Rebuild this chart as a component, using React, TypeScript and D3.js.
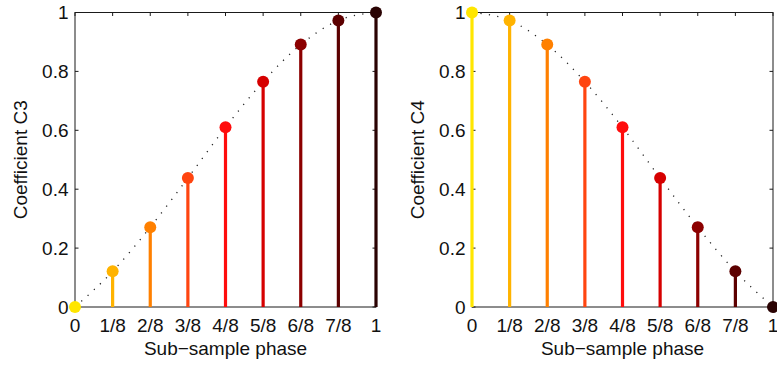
import React from "react";
import * as d3 from "d3";

const phases = [0, 1 / 8, 2 / 8, 3 / 8, 4 / 8, 5 / 8, 6 / 8, 7 / 8, 1];
const tickLabels = ["0", "1/8", "2/8", "3/8", "4/8", "5/8", "6/8", "7/8", "1"];
const yTicks = [0, 0.2, 0.4, 0.6, 0.8, 1];
const coefC3 = [0, 0.121, 0.271, 0.438, 0.61, 0.765, 0.891, 0.973, 1];
const coefC4 = [1, 0.973, 0.891, 0.765, 0.61, 0.438, 0.271, 0.121, 0];
const stemColors = [
  "#FFE600",
  "#FFB300",
  "#FF8000",
  "#FF4510",
  "#FF0D0D",
  "#D60000",
  "#8C0000",
  "#5C0000",
  "#2A0303",
];

const W = 777;
const H = 365;
const FONT = "'Liberation Sans', Arial, Helvetica, sans-serif";

function Panel({ x0, x1, values, label }: { x0: number; x1: number; values: number[]; label: string }) {
  const top = 12.5;
  const bottom = 307;
  const x = d3.scaleLinear().domain([0, 1]).range([x0, x1]);
  const y = d3.scaleLinear().domain([0, 1]).range([bottom, top]);
  const pts: [number, number][] = phases.map((p, i) => [x(p), y(values[i])]);
  const line = d3.line().curve(d3.curveMonotoneX)(pts) || "";
  const tl = 3.5;
  return (
    <g>
      {/* dotted curve */}
      <path d={line} fill="none" stroke="#222" strokeWidth={1.3} strokeDasharray="1.2 7.3" />
      {/* frame */}
      <rect x={x0} y={top} width={x1 - x0} height={bottom - top} fill="none" stroke="#1a1a1a" strokeWidth={1} />
      {/* ticks */}
      {phases.map((p, i) => (
        <g key={"xt" + i}>
          <line x1={x(p)} x2={x(p)} y1={top} y2={top + tl} stroke="#1a1a1a" strokeWidth={1} />
          <line x1={x(p)} x2={x(p)} y1={bottom} y2={bottom - tl} stroke="#1a1a1a" strokeWidth={1} />
        </g>
      ))}
      {yTicks.map((t, i) => (
        <g key={"yt" + i}>
          <line x1={x0} x2={x0 + tl} y1={y(t)} y2={y(t)} stroke="#1a1a1a" strokeWidth={1} />
          <line x1={x1} x2={x1 - tl} y1={y(t)} y2={y(t)} stroke="#1a1a1a" strokeWidth={1} />
        </g>
      ))}
      {/* stems */}
      {phases.map((p, i) => (
        <line
          key={"s" + i}
          x1={x(p)}
          x2={x(p)}
          y1={y(0)}
          y2={y(values[i])}
          stroke={stemColors[i]}
          strokeWidth={3.2}
        />
      ))}
      {phases.map((p, i) => (
        <circle key={"m" + i} cx={x(p)} cy={y(values[i])} r={6} fill={stemColors[i]} />
      ))}
      {/* labels */}
      {yTicks.map((t, i) => (
        <text
          key={"yl" + i}
          x={x0 - 6.5}
          y={y(t)}
          dy="0.35em"
          textAnchor="end"
          fontSize={19}
          fontFamily={FONT}
          fill="#111"
        >
          {d3.format("")(t)}
        </text>
      ))}
      {phases.map((p, i) => (
        <text
          key={"xl" + i}
          x={x(p)}
          y={332}
          textAnchor="middle"
          fontSize={19}
          fontFamily={FONT}
          fill="#111"
        >
          {tickLabels[i]}
        </text>
      ))}
      <text x={(x0 + x1) / 2} y={355} textAnchor="middle" fontSize={19} fontFamily={FONT} fill="#111">
        Sub−sample phase
      </text>
      <text
        transform={`translate(${x0 - 48},${(top + bottom) / 2}) rotate(-90)`}
        textAnchor="middle"
        fontSize={19}
        fontFamily={FONT}
        fill="#111"
      >
        {label}
      </text>
    </g>
  );
}

export default function App() {
  return (
    <svg
      width={W}
      height={H}
      style={{ position: "absolute", left: 0, top: 0, background: "#fff" }}
    >
      <rect width={W} height={H} fill="#fff" />
      <Panel x0={75} x1={376} values={coefC3} label="Coefficient C3" />
      <Panel x0={472} x1={773} values={coefC4} label="Coefficient C4" />
    </svg>
  );
}
